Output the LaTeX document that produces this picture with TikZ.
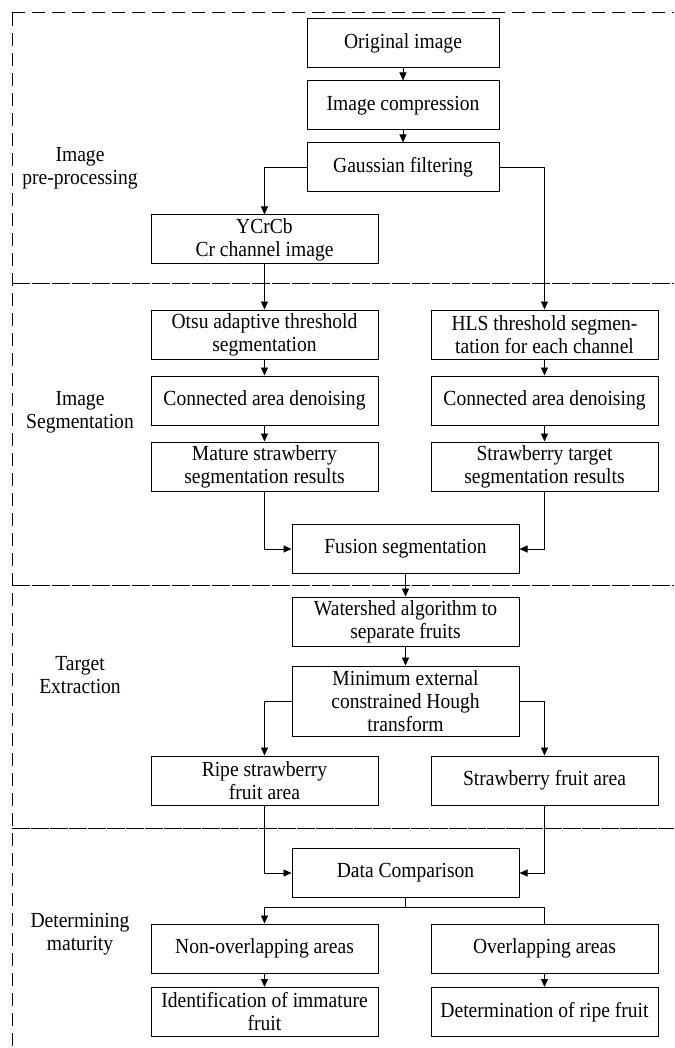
\documentclass[tikz,border=0pt]{standalone}
\usepackage{fontspec}
\setmainfont{Liberation Serif}[FakeStretch=0.91]
\usetikzlibrary{arrows.meta,calc}
\begin{document}
\begin{tikzpicture}[x=1pt,y=-1pt,
  every node/.style={font=\fontsize{21.5}{23}\selectfont, align=center, inner sep=0pt},
  box/.style={draw, line width=1pt, minimum width=227pt, minimum height=49pt},
  sbox/.style={box, minimum width=192pt},
  tbox/.style={box, minimum height=70pt},
  lbl/.style={align=center},
  conn/.style={line width=0.9pt},
  arr/.style={conn, -{Triangle[length=8pt,width=7pt]}},
  frame/.style={line width=1pt, dash pattern=on 13pt off 7pt},
  sepA/.style={line width=1pt, dash pattern=on 18pt off 2pt},
  sepB/.style={line width=1pt, dash pattern=on 18pt off 1pt}
]
\useasboundingbox (0,0) rectangle (674,1048);
% frame and separators
\draw[frame] (12,13) -- (674,13);
\draw[frame] (12,13) -- (12,1048);
\draw[sepA] (12,284) -- (674,284);
\draw[sepA] (12,585) -- (674,585);
\draw[sepB] (12,828) -- (674,828);
% section labels
\node[lbl] (l1) at (80,168) {Image\\pre-processing};
\node[lbl] (l2) at (80,412) {Image\\Segmentation};
\node[lbl] (l3) at (80,675) {Target\\Extraction};
\node[lbl] (l4) at (80,934) {Determining\\maturity};
% boxes
\node[sbox] (orig) at (403,43.5) {Original image};
\node[sbox] (comp) at (403,105.5) {Image compression};
\node[sbox] (gauss) at (403,167.5) {Gaussian filtering};
\node[box] (ycr) at (264.5,239.5) {YCrCb\\Cr channel image};
\node[box] (otsu) at (264.5,334.5) {Otsu adaptive threshold\\segmentation};
\node[box] (hls) at (544.5,334.5) {HLS threshold segmen-\\tation for each channel};
\node[box] (con1) at (264.5,400.5) {Connected area denoising};
\node[box] (con2) at (544.5,400.5) {Connected area denoising};
\node[box] (mature) at (264.5,466.5) {Mature strawberry\\segmentation results};
\node[box] (starget) at (544.5,466.5) {Strawberry target\\segmentation results};
\node[box] (fusion) at (405.5,549) {Fusion segmentation};
\node[box] (water) at (405.5,621.5) {Watershed algorithm to\\separate fruits};
\node[tbox] (minext) at (405.5,701) {Minimum external\\constrained Hough\\transform};
\node[box] (ripe) at (264.5,780.5) {Ripe strawberry\\fruit area};
\node[box] (sfa) at (544.5,780.5) {Strawberry fruit area};
\node[box] (data) at (405.5,873) {Data Comparison};
\node[box] (nonov) at (264.5,948.5) {Non-overlapping areas};
\node[box] (ov) at (544.5,948.5) {Overlapping areas};
\node[box] (ident) at (264.5,1012) {Identification of immature\\fruit};
\node[box] (determ) at (544.5,1012) {Determination of ripe fruit};
% connectors
\draw[arr] (orig) -- (comp);
\draw[arr] (comp) -- (gauss);
\draw[arr] (gauss.west) -| (ycr.north);
\draw[arr] (gauss.east) -| (hls.north);
\draw[arr] (ycr) -- (otsu);
\draw[arr] (otsu) -- (con1);
\draw[arr] (con1) -- (mature);
\draw[arr] (hls) -- (con2);
\draw[arr] (con2) -- (starget);
\draw[arr] (mature.south) |- (fusion.west);
\draw[arr] (starget.south) |- (fusion.east);
\draw[arr] (fusion) -- (water);
\draw[arr] (water) -- (minext);
\draw[arr] (minext.west) -| (ripe.north);
\draw[arr] (minext.east) -| (sfa.north);
\draw[arr] (ripe.south) |- (data.west);
\draw[arr] (sfa.south) |- (data.east);
\coordinate (split) at ($(data.south)+(0,9)$);
\draw[conn] (data.south) -- (split);
\draw[arr] (split) -| (nonov.north);
\draw[conn] (split) -| (ov.north);
\draw[arr] (nonov) -- (ident);
\draw[arr] (ov) -- (determ);
\end{tikzpicture}
\end{document}
